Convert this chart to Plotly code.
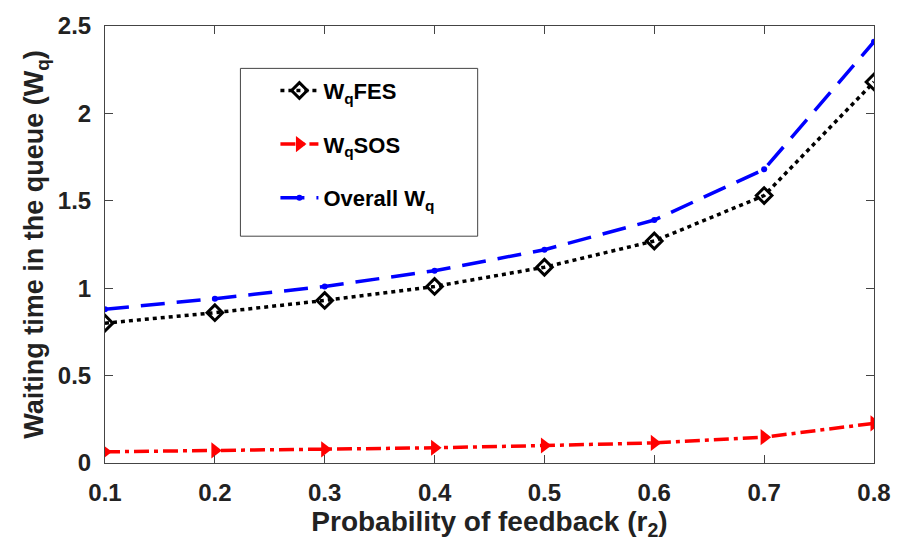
import plotly.graph_objects as go

r2 = [0.1, 0.2, 0.3, 0.4, 0.5, 0.6, 0.7, 0.8]
wq_fes = [0.80, 0.86, 0.93, 1.01, 1.12, 1.27, 1.53, 2.18]
wq_sos = [0.064, 0.072, 0.078, 0.087, 0.10, 0.115, 0.148, 0.227]
wq_all = [0.88, 0.94, 1.01, 1.10, 1.22, 1.39, 1.68, 2.41]
x_ticks = [0.1, 0.2, 0.3, 0.4, 0.5, 0.6, 0.7, 0.8]
y_ticks = [0, 0.5, 1, 1.5, 2, 2.5]
y_tick_labels = ["0", "0.5", "1", "1.5", "2", "2.5"]

font_main = "Liberation Sans, Arial, sans-serif"

fig = go.Figure()
fig.add_trace(go.Scatter(
    x=r2, y=wq_fes, mode="lines+markers", name="<b>W<sub>q</sub>FES</b>",
    line=dict(color="black", width=3.5, dash="4px,4px"),
    marker=dict(symbol="diamond-open", size=12, color="black", line=dict(width=3, color="black")),
    legendgroup="a"))
fig.add_trace(go.Scatter(
    x=r2, y=wq_sos, mode="lines+markers", name="<b>W<sub>q</sub>SOS</b>",
    line=dict(color="#ff0000", width=3.5, dash="15px,5px,4px,5px"),
    marker=dict(symbol="triangle-right", size=14, color="#ff0000"),
    legendgroup="b"))
fig.add_trace(go.Scatter(
    x=r2, y=wq_all, mode="lines+markers", name="<b>Overall W<sub>q</sub></b>",
    line=dict(color="#0000ff", width=3.5, dash="24px,12px"),
    marker=dict(symbol="circle", size=6, color="#0000ff"),
    legendgroup="c"))

# legend frame (layout decoration)
fig.add_shape(type="rect", xref="paper", yref="paper",
              x0=0.1761, x1=0.4846, y0=0.519, y1=0.903,
              line=dict(color="#444444", width=1), fillcolor="white", layer="below")

fig.update_layout(
    width=903, height=548,
    margin=dict(l=105, r=20, t=20, b=85),
    paper_bgcolor="white", plot_bgcolor="white",
    showlegend=True,
    legend=dict(
        x=0.1761, y=0.90, xanchor="left", yanchor="top",
        borderwidth=0, bgcolor="rgba(0,0,0,0)",
        font=dict(family=font_main, size=22, color="black"),
        traceorder="grouped", tracegroupgap=22, itemwidth=38, indentation=35,
    ),
    xaxis=dict(
        range=[0.1, 0.8], tickvals=x_ticks, ticktext=[f"<b>{v:.1f}</b>" for v in x_ticks],
        ticks="inside", ticklen=8, tickcolor="#444", mirror="ticks",
        showline=True, linecolor="#444", linewidth=1, showgrid=False, zeroline=False,
        tickfont=dict(family=font_main, size=24, color="#222"), ticklabelstandoff=8,
        title=dict(text="<b>Probability of feedback (r<sub>2</sub>)</b>",
                   font=dict(family=font_main, size=28, color="#222"), standoff=6),
    ),
    yaxis=dict(
        range=[0, 2.5], tickvals=y_ticks, ticktext=[f"<b>{t}</b>" for t in y_tick_labels],
        ticks="inside", ticklen=8, tickcolor="#444", mirror="ticks",
        showline=True, linecolor="#444", linewidth=1, showgrid=False, zeroline=False,
        tickfont=dict(family=font_main, size=24, color="#222"), ticklabelstandoff=8,
        title=dict(text="<b>Waiting time in the queue (W<sub>q</sub>)</b>",
                   font=dict(family=font_main, size=27, color="#222"), standoff=6),
    ),
)

fig.write_html("out.html")
